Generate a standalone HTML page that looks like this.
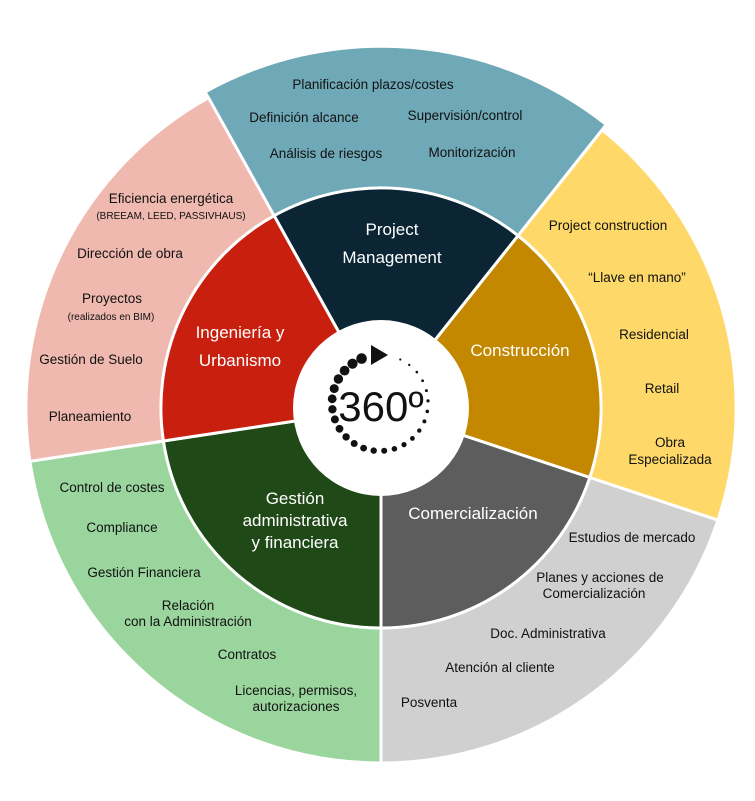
<!DOCTYPE html>
<html><head><meta charset="utf-8"><style>
html,body{margin:0;padding:0;background:#fff;}
svg{display:block;}
text{font-family:"Liberation Sans",sans-serif;}
.o{font-size:13.5px;fill:#111;text-anchor:middle;}
.s{font-size:10px;fill:#111;text-anchor:middle;}
.i{font-size:17px;fill:#fff;text-anchor:middle;}
</style></head><body>
<svg width="755" height="801" viewBox="0 0 755 801" xmlns="http://www.w3.org/2000/svg">
<g stroke="#fff" stroke-width="3" stroke-linejoin="round">
<path d="M381 408 L606.3 124.6 A362 362 0 0 0 205.1 92.0 Z" fill="#6fa9b8"/>
<path d="M381 408 L717.9 520.2 A355 355 0 0 0 602.2 130.0 Z" fill="#fed96a"/>
<path d="M381 408 L381 763 A355 355 0 0 0 717.9 520.2 Z" fill="#cfd0cf"/>
<path d="M381 408 L29.9 461.3 A355 355 0 0 0 381 763 Z" fill="#9bd59e"/>
<path d="M381 408 L208.5 97.7 A355 355 0 0 0 29.9 461.3 Z" fill="#efb9b0"/>
<path d="M381 408 L518.1 235.7 A220 220 0 0 0 274.1 215.7 Z" fill="#0c2535"/>
<path d="M381 408 L589.8 477.5 A220 220 0 0 0 518.1 235.7 Z" fill="#c48800"/>
<path d="M381 408 L381 628 A220 220 0 0 0 589.8 477.5 Z" fill="#5d5d5d"/>
<path d="M381 408 L163.4 441.0 A220 220 0 0 0 381 628 Z" fill="#1f4916"/>
<path d="M381 408 L274.1 215.7 A220 220 0 0 0 163.4 441.0 Z" fill="#c81f0e"/>
</g>
<circle cx="381" cy="408" r="88" fill="#fff"/>
<g fill="#111">
<circle cx="361.6" cy="358.6" r="5.3"/><circle cx="352.5" cy="363.7" r="5.1"/><circle cx="344.6" cy="370.6" r="4.9"/><circle cx="338.4" cy="379" r="4.7"/><circle cx="334.2" cy="388.6" r="4.5"/><circle cx="332.2" cy="398.8" r="4.4"/><circle cx="332.4" cy="409.3" r="4.2"/><circle cx="334.9" cy="419.4" r="4.0"/><circle cx="339.5" cy="428.8" r="3.9"/><circle cx="346.1" cy="436.9" r="3.7"/><circle cx="354.2" cy="443.5" r="3.5"/><circle cx="363.6" cy="448.1" r="3.4"/><circle cx="373.7" cy="450.6" r="3.2"/><circle cx="384.2" cy="450.8" r="3.0"/><circle cx="394.4" cy="448.8" r="2.8"/><circle cx="404" cy="444.6" r="2.6"/><circle cx="412.4" cy="438.4" r="2.4"/><circle cx="419.3" cy="430.6" r="2.2"/><circle cx="424.4" cy="421.4" r="2.0"/><circle cx="427.3" cy="411.4" r="1.8"/><circle cx="428" cy="400.9" r="1.6"/><circle cx="426.4" cy="390.6" r="1.5"/><circle cx="422.6" cy="380.8" r="1.4"/><circle cx="416.8" cy="372.1" r="1.3"/><circle cx="409.2" cy="364.9" r="1.2"/><circle cx="400.3" cy="359.5" r="1.1"/>
<polygon points="371,345 388,355 371,365"/>
</g>
<text x="381" y="421" font-size="42" fill="#111" text-anchor="middle">360º</text>

<text class="i" x="392" y="235">Project</text>
<text class="i" x="392" y="263">Management</text>
<text class="i" x="240" y="338">Ingeniería y</text>
<text class="i" x="240" y="366">Urbanismo</text>
<text class="i" x="520" y="356">Construcción</text>
<text class="i" x="295" y="504">Gestión</text>
<text class="i" x="295" y="526">administrativa</text>
<text class="i" x="295" y="548">y financiera</text>
<text class="i" x="473" y="519">Comercialización</text>

<text class="o" x="373" y="89">Planificación plazos/costes</text>
<text class="o" x="304" y="122">Definición alcance</text>
<text class="o" x="465" y="120">Supervisión/control</text>
<text class="o" x="326" y="158">Análisis de riesgos</text>
<text class="o" x="472" y="157">Monitorización</text>

<text class="o" x="171" y="203">Eficiencia energética</text>
<text class="s" x="171" y="219">(BREEAM, LEED, PASSIVHAUS)</text>
<text class="o" x="130" y="258">Dirección de obra</text>
<text class="o" x="112" y="303">Proyectos</text>
<text class="s" x="111" y="320">(realizados en BIM)</text>
<text class="o" x="91" y="364">Gestión de Suelo</text>
<text class="o" x="90" y="421">Planeamiento</text>

<text class="o" x="608" y="230">Project construction</text>
<text class="o" x="637" y="282">“Llave en mano”</text>
<text class="o" x="654" y="339">Residencial</text>
<text class="o" x="662" y="393">Retail</text>
<text class="o" x="670" y="447">Obra</text>
<text class="o" x="670" y="464">Especializada</text>

<text class="o" x="632" y="542">Estudios de mercado</text>
<text class="o" x="600" y="582">Planes y acciones de</text>
<text class="o" x="594" y="598">Comercialización</text>
<text class="o" x="548" y="638">Doc. Administrativa</text>
<text class="o" x="500" y="672">Atención al cliente</text>
<text class="o" x="429" y="707">Posventa</text>

<text class="o" x="112" y="492">Control de costes</text>
<text class="o" x="122" y="532">Compliance</text>
<text class="o" x="144" y="577">Gestión Financiera</text>
<text class="o" x="188" y="610">Relación</text>
<text class="o" x="188" y="626">con la Administración</text>
<text class="o" x="247" y="659">Contratos</text>
<text class="o" x="296" y="695">Licencias, permisos,</text>
<text class="o" x="296" y="711">autorizaciones</text>
</svg>
</body></html>
